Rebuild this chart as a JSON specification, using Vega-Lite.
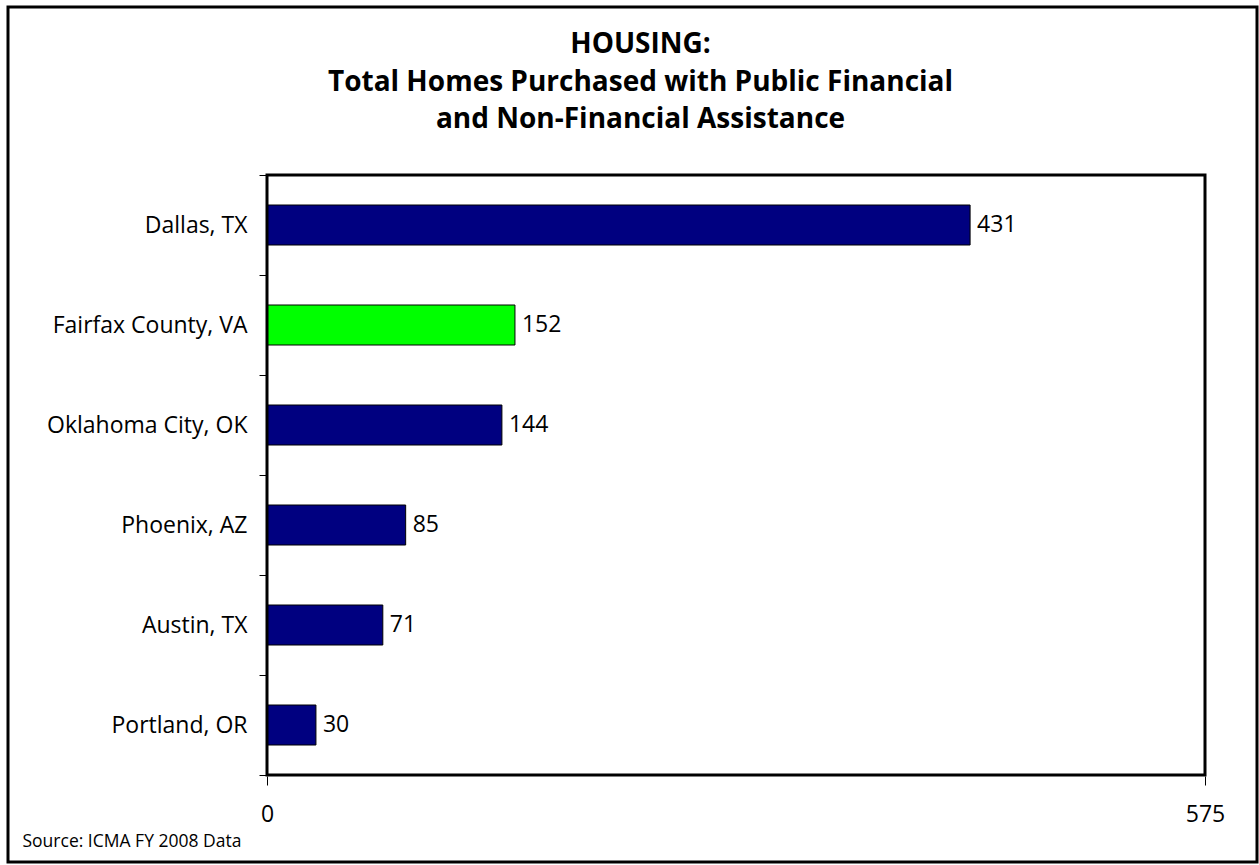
{
  "$schema": "https://vega.github.io/schema/vega-lite/v6.json",
  "width": 1249,
  "height": 855,
  "autosize": {"type": "none"},
  "padding": {"left": 8, "top": 7, "right": 2, "bottom": 3},
  "background": "white",
  "title": {
    "text": ["HOUSING:", "Total Homes Purchased with Public Financial", "and Non-Financial Assistance"],
    "anchor": "middle",
    "frame": "group",
    "font": "Open Sans",
    "fontSize": 28,
    "fontWeight": "bold",
    "lineHeight": 37.5,
    "offset": -138,
    "dx": 8,
    "color": "black"
  },
  "data": {
    "values": [
      {"city": "Dallas, TX", "value": 431},
      {"city": "Fairfax County, VA", "value": 152},
      {"city": "Oklahoma City, OK", "value": 144},
      {"city": "Phoenix, AZ", "value": 85},
      {"city": "Austin, TX", "value": 71},
      {"city": "Portland, OR", "value": 30}
    ]
  },
  "layer": [
    {
      "encoding": {
        "y": {
          "field": "city", "type": "nominal", "sort": null,
          "scale": {"type": "band", "paddingInner": 0, "paddingOuter": 0, "range": [168, 768]},
          "axis": {"title": null, "offset": -259, "domain": false, "tickBand": "extent", "tickSize": 8, "tickColor": "black", "tickWidth": 1, "labelFont": "Open Sans", "labelFontSize": 23, "labelColor": "black", "labelPadding": 12, "labelLimit": 400, "grid": false}
        },
        "x": {
          "field": "value", "type": "quantitative",
          "scale": {"domain": [0, 575], "range": [259, 1197], "nice": false, "zero": false},
          "axis": {"values": [0, 575], "offset": -86, "domain": false, "grid": false, "tickSize": 9, "tickColor": "black", "labelFont": "Open Sans", "labelFontSize": 23, "labelColor": "black", "labelPadding": 18, "labelFlush": false, "title": "Source: ICMA FY 2008 Data", "titleFont": "Open Sans", "titleFontSize": 17.5, "titleFontWeight": "normal", "titleColor": "black", "titleX": 14, "titleY": 70, "titleAlign": "left", "titleBaseline": "alphabetic", "titleAnchor": "start"}
        }
      },
      "layer": [
        {
          "mark": {"type": "bar", "size": 40, "stroke": "black", "strokeWidth": 1},
          "encoding": {
            "color": {
              "condition": {"test": "datum.city === 'Fairfax County, VA'", "value": "#00ff00"},
              "value": "#000080"
            }
          }
        },
        {
          "mark": {"type": "text", "align": "left", "baseline": "middle", "dx": 7, "font": "Open Sans", "fontSize": 23, "color": "black"},
          "encoding": {
            "text": {"field": "value", "type": "quantitative"}
          }
        }
      ]
    },
    {
      "data": {"values": [{}]},
      "mark": {"type": "rect", "fill": null, "stroke": "black", "strokeWidth": 3},
      "encoding": {
        "x": {
          "datum": 0, "type": "quantitative",
          "scale": {"domain": [0, 575], "range": [259, 1197], "nice": false, "zero": false},
          "axis": {"values": [0, 575], "offset": -86, "domain": false, "grid": false, "tickSize": 9, "tickColor": "black", "labelFont": "Open Sans", "labelFontSize": 23, "labelColor": "black", "labelPadding": 18, "labelFlush": false, "title": "Source: ICMA FY 2008 Data", "titleFont": "Open Sans", "titleFontSize": 17.5, "titleFontWeight": "normal", "titleColor": "black", "titleX": 14, "titleY": 70, "titleAlign": "left", "titleBaseline": "alphabetic", "titleAnchor": "start"}
        },
        "x2": {"datum": 575},
        "y": {"datum": 0, "type": "quantitative", "scale": {"domain": [0, 6], "range": [168, 768], "nice": false, "zero": false}, "axis": null},
        "y2": {"datum": 6}
      }
    }
  ],
  "resolve": {"scale": {"y": "independent"}},
  "config": {
    "view": {"stroke": "black", "strokeWidth": 3},
    "font": "Open Sans"
  }
}
